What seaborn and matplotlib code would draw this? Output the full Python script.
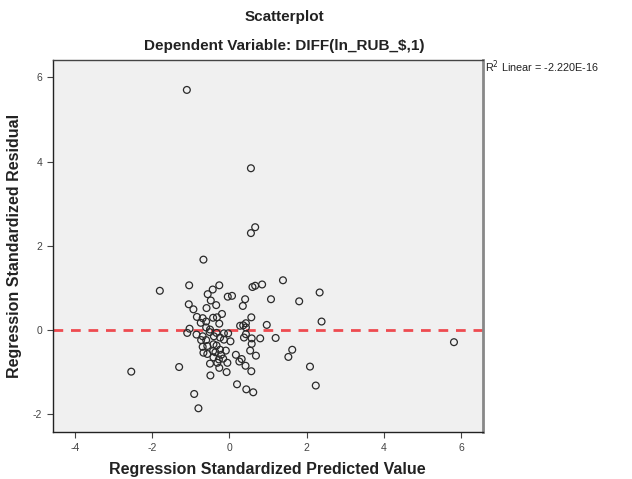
import matplotlib
matplotlib.use("Agg")
import matplotlib.pyplot as plt
import seaborn as sns
import pandas as pd

predicted = [-1.10, 0.56, 0.67, 0.56, -0.67, -1.80, 5.82, -2.54, -1.30, -0.91,
             -0.80, -1.04, -0.26, -0.43, -0.56, -0.48, -0.04, 0.07, 0.41, 0.35,
             0.60, 0.67, 0.85, 1.39, 2.34, 1.08, 1.81, -1.05, -0.93, -0.59,
             -0.34, -0.19, -0.84, -0.69, -0.42, -0.32, 0.57, 2.39, 0.97, -0.74,
             -0.60, -0.26, 0.28, 0.36, 0.43, 0.43, -1.03, -1.09, -0.60, -0.50,
             -0.14, -0.03, -0.85, 0.38, 0.58, 0.80, 1.20, -0.69, -0.73, -0.60,
             -0.14, 0.03, 0.58, -0.69, -0.57, -0.41, -0.33, -0.67, -0.57, -0.24,
             -0.09, 0.54, 0.69, 0.17, -0.21, 1.63, 1.53, -0.41, -0.27, -0.16,
             0.32, -0.50, -0.05, 0.26, 0.42, -0.26, 0.57, -0.07, 2.09, -0.49,
             0.20, 0.44, 0.62, 2.24, -0.51, 0.43, -0.40, -0.33, -0.42, -0.36,
             -0.31, -0.24]
residual = [5.70, 3.84, 2.44, 2.30, 1.67, 0.93, -0.29, -0.99, -0.88, -1.52,
            -1.86, 1.06, 1.06, 0.96, 0.85, 0.70, 0.79, 0.81, 0.73, 0.57,
            1.02, 1.05, 1.08, 1.18, 0.89, 0.73, 0.68, 0.61, 0.49, 0.52,
            0.59, 0.38, 0.31, 0.28, 0.29, 0.30, 0.30, 0.20, 0.12, 0.17,
            0.20, 0.15, 0.10, 0.11, 0.16, 0.06, 0.03, -0.07, 0.06, 0.01,
            -0.08, -0.08, -0.11, -0.18, -0.20, -0.20, -0.19, -0.15, -0.24, -0.24,
            -0.23, -0.27, -0.33, -0.40, -0.38, -0.34, -0.37, -0.54, -0.57, -0.47,
            -0.49, -0.49, -0.61, -0.59, -0.59, -0.47, -0.64, -0.65, -0.70, -0.68,
            -0.69, -0.80, -0.78, -0.75, -0.85, -0.90, -0.98, -1.00, -0.87, -1.08,
            -1.29, -1.41, -1.48, -1.32, -0.05, -0.10, -0.15, -0.07, -0.50, -0.53,
            -0.78, -0.18]

x_ticks = [-4, -2, 0, 2, 4, 6]
y_ticks = [-2, 0, 2, 4, 6]

df = pd.DataFrame({"pred": predicted, "resid": residual})

sns.set_style("white")
plt.rcParams["font.family"] = ["Liberation Sans", "DejaVu Sans"]

fig = plt.figure(figsize=(6.32, 4.79), dpi=100)
ax = fig.add_axes([0.0834, 0.0975, 0.6804, 0.7772])
ax.set_facecolor("#f0f0f0")

ax.axhline(0, color="#ee4b50", lw=2.0, ls=(0, (3.5, 2.8)), zorder=1)
sns.scatterplot(data=df, x="pred", y="resid", ax=ax, marker="o", s=24,
                facecolor="none", edgecolor="#2a2a2a", linewidth=0.9, zorder=3)

ax.set_xlim(-4.575, 6.565)
ax.set_ylim(-2.43, 6.41)
ax.set_xticks(x_ticks)
ax.set_yticks(y_ticks)
ax.set_xticklabels([str(t) for t in x_ticks])
ax.set_yticklabels([str(t) for t in y_ticks])
ax.tick_params(axis="both", direction="out", length=4, width=0.8,
               labelsize=7.5, colors="#444444", left=True, bottom=True)

for side in ["left", "bottom", "top", "right"]:
    ax.spines[side].set_visible(True)
ax.spines["left"].set_color("#222222")
ax.spines["bottom"].set_color("#222222")
ax.spines["top"].set_color("#444444")
ax.spines["right"].set_color("#888888")
ax.spines["left"].set_linewidth(1.0)
ax.spines["bottom"].set_linewidth(1.0)
ax.spines["top"].set_linewidth(1.0)
ax.spines["right"].set_linewidth(2.0)

ax.set_xlabel("Regression Standardized Predicted Value", fontsize=11.5,
              fontweight="bold", color="#222222", labelpad=7)
ax.set_ylabel("Regression Standardized Residual", fontsize=11.5,
              fontweight="bold", color="#222222", labelpad=8)

fig.text(284 / 632, 1 - 17 / 479, "Scatterplot", ha="center", va="center",
         fontsize=11, fontweight="bold", color="#222222")
fig.text(284 / 632, 1 - 46 / 479, "Dependent Variable: DIFF(ln_RUB_$,1)",
         ha="center", va="center", fontsize=11, fontweight="bold", color="#222222")
fig.text(485 / 632, 1 - 67 / 479, r"R$^2$ Linear = -2.220E-16", ha="left",
         va="center", fontsize=7.8, color="#222222")

fig.savefig("out.png", dpi=100, facecolor="white")
